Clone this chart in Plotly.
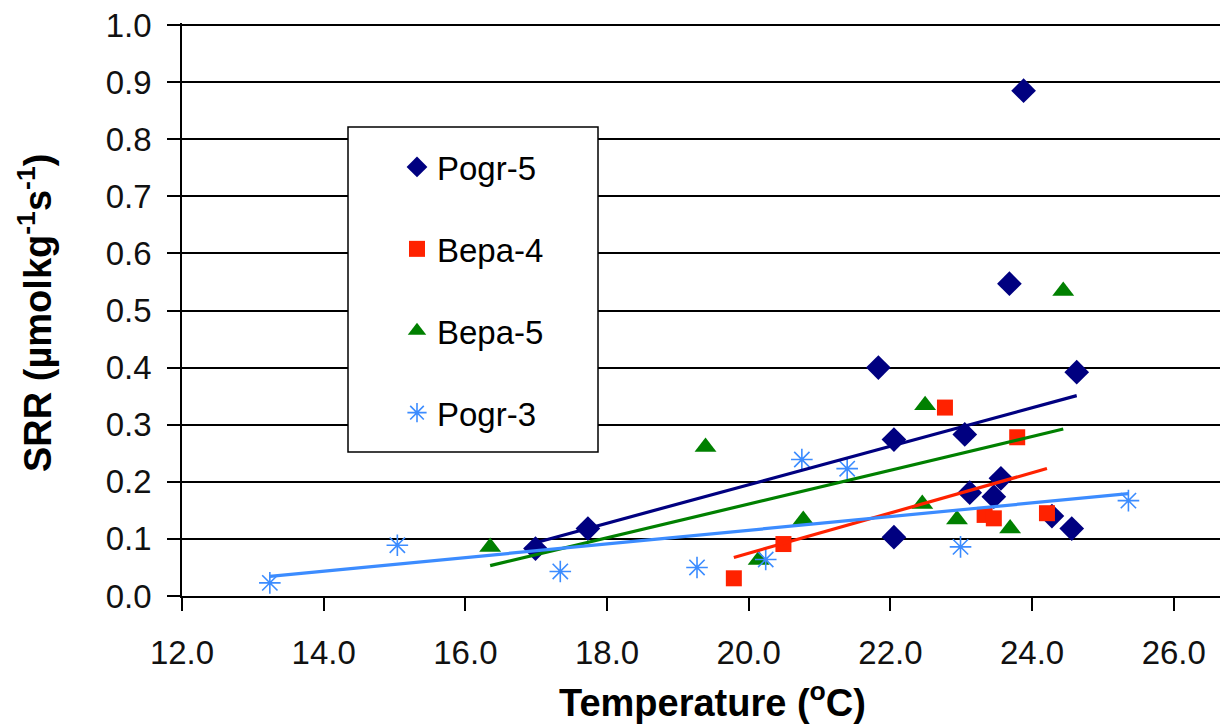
import numpy as np
import plotly.graph_objects as go

# ---- data ----
series_names = ["Pogr-5", "Bepa-4", "Bepa-5", "Pogr-3"]

pogr5_temp = [16.99, 17.73, 21.83, 22.05, 22.05, 23.05, 23.12, 23.46, 23.56, 23.68, 23.88, 24.28, 24.56, 24.63]
pogr5_srr = [0.083, 0.118, 0.400, 0.274, 0.103, 0.283, 0.181, 0.174, 0.206, 0.547, 0.885, 0.140, 0.118, 0.392]

bepa4_temp = [19.79, 20.49, 22.77, 23.33, 23.46, 23.79, 24.21]
bepa4_srr = [0.031, 0.091, 0.330, 0.142, 0.136, 0.278, 0.145]

bepa5_temp = [16.35, 19.39, 20.14, 20.77, 22.45, 22.49, 22.94, 23.69, 24.44]
bepa5_srr = [0.086, 0.261, 0.063, 0.133, 0.161, 0.334, 0.134, 0.118, 0.534]

pogr3_temp = [13.24, 15.04, 17.34, 19.27, 20.24, 20.75, 21.39, 22.99, 25.36]
pogr3_srr = [0.023, 0.089, 0.043, 0.050, 0.064, 0.239, 0.223, 0.086, 0.167]

x_ticks = [12, 14, 16, 18, 20, 22, 24, 26]
y_ticks = [0.0, 0.1, 0.2, 0.3, 0.4, 0.5, 0.6, 0.7, 0.8, 0.9, 1.0]

# ---- styles ----
colors = ["#000080", "#FF2200", "#008000", "#3C8CFF"]
symbols = ["diamond", "square", "triangle-up", "asterisk-open"]
sizes = [19, 16, 19, 18]
FONT = "Liberation Sans, Arial, sans-serif"

data = [
    (pogr5_temp, pogr5_srr),
    (bepa4_temp, bepa4_srr),
    (bepa5_temp, bepa5_srr),
    (pogr3_temp, pogr3_srr),
]

fig = go.Figure()

for name, (t, s), c, sym, sz in zip(series_names, data, colors, symbols, sizes):
    fig.add_trace(go.Scatter(
        x=t, y=s, mode="markers", name=name, legendgroup=name,
        marker=dict(symbol=sym, size=sz, color=c,
                    line=dict(color=c, width=1.6 if sym.endswith("open") else 0)),
    ))

# linear trendlines (least squares), spanning each series' temperature range
for name, (t, s), c in zip(series_names, data, colors):
    slope, intercept = np.polyfit(t, s, 1)
    xs = [min(t), max(t)]
    ys = [slope * xv + intercept for xv in xs]
    fig.add_trace(go.Scatter(
        x=xs, y=ys, mode="lines", showlegend=False, legendgroup=name,
        line=dict(color=c, width=3.2), hoverinfo="skip",
    ))

# plot-area geometry (screen pixels of the target picture)
X0_PX, X1_PX = 182, 1228
Y0_PX, Y1_PX = 596, 23          # a little headroom above the 1.0 gridline
Y_PER_UNIT = 571.0
Y_MAX = (Y0_PX - Y1_PX) / Y_PER_UNIT
PAGE_OFFSET = 8  # default body margin of the html page


def px_x(p):
    return (p - X0_PX) / (X1_PX - X0_PX)


def px_y(p):
    return (Y0_PX - p) / (Y0_PX - Y1_PX)


W, H = 1228 - PAGE_OFFSET, 726 - PAGE_OFFSET

fig.update_layout(
    width=W, height=H,
    margin=dict(l=X0_PX - PAGE_OFFSET, r=0, t=Y1_PX - PAGE_OFFSET,
                b=726 - Y0_PX, pad=0),
    plot_bgcolor="white", paper_bgcolor="white",
    font=dict(family=FONT, color="#000000"),
    showlegend=True,
    legend=dict(
        x=px_x(397), y=px_y(139), xanchor="left", yanchor="top",
        bgcolor="rgba(0,0,0,0)", borderwidth=0,
        font=dict(family=FONT, size=33, color="#000000"),
        tracegroupgap=36, traceorder="grouped",
    ),
    xaxis=dict(
        range=[12, 12 + (X1_PX - X0_PX) / 70.84],
        tickvals=x_ticks, ticktext=[f"{v:.1f}" for v in x_ticks],
        ticks="outside", ticklen=13, tickwidth=1.5, tickcolor="black",
        showline=True, linecolor="black", linewidth=1.5,
        showgrid=False, zeroline=False,
        tickfont=dict(family=FONT, size=33, color="#111111"),
        ticklabelstandoff=14, ticklabeloverflow="allow",
    ),
    yaxis=dict(
        range=[0, Y_MAX],
        tickvals=y_ticks, ticktext=[f"{v:.1f}" for v in y_ticks],
        ticks="outside", ticklen=13, tickwidth=1.5, tickcolor="black",
        showline=True, linecolor="black", linewidth=1.5,
        showgrid=True, gridcolor="black", gridwidth=1.5,
        zeroline=False,
        tickfont=dict(family=FONT, size=33, color="#111111"),
        ticklabelstandoff=9, ticklabeloverflow="allow",
    ),
    shapes=[dict(
        type="rect", xref="paper", yref="paper",
        x0=px_x(348), x1=px_x(598), y0=px_y(452), y1=px_y(127),
        line=dict(color="black", width=1.5), fillcolor="white", layer="above",
    )],
    annotations=[
        dict(text="Temperature (<sup>o</sup>C)", xref="paper", yref="paper",
             x=px_x(712), y=px_y(700), xanchor="center", yanchor="middle",
             showarrow=False,
             font=dict(family=FONT, size=38, color="black", weight="bold")),
        dict(text="SRR (µmolkg<sup>-1</sup>s<sup>-1</sup>)", xref="paper", yref="paper",
             x=px_x(35), y=px_y(313), xanchor="center", yanchor="middle",
             textangle=-90, showarrow=False,
             font=dict(family=FONT, size=38, color="black", weight="bold")),
    ],
)

fig.write_html("out.html")
